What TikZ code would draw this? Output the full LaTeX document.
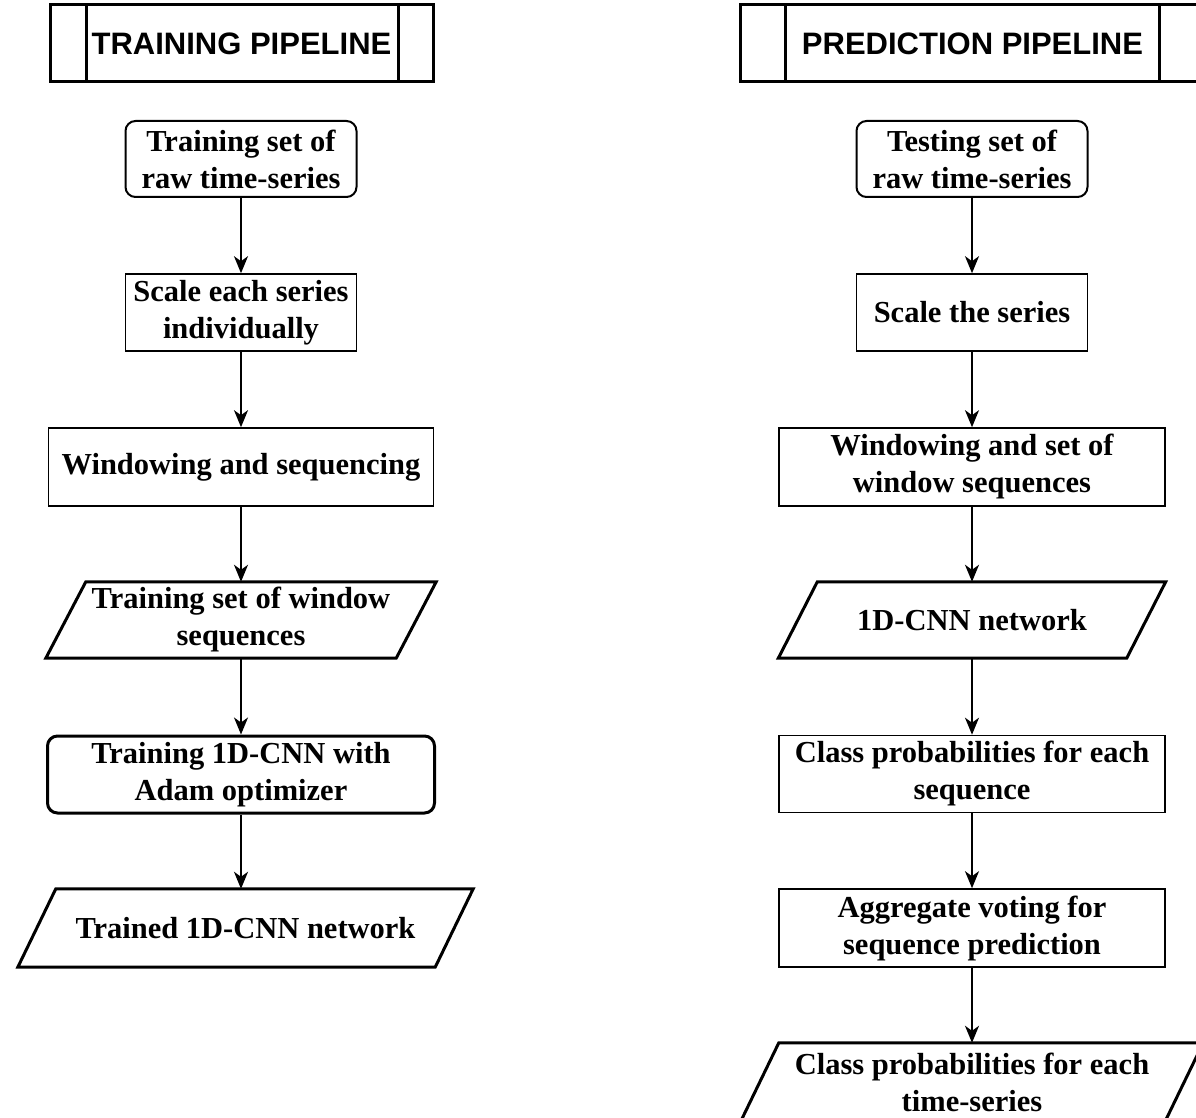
\documentclass[tikz,border=0pt]{standalone}
\usepackage{fontspec}
\setmainfont{Liberation Serif}
\newfontfamily\hdrfont{Liberation Sans}
\usetikzlibrary{arrows.meta}
\begin{document}
\begin{tikzpicture}[x=1pt,y=-1pt,
  every node/.style={font=\fontsize{30.5}{37}\selectfont\bfseries, align=center, inner sep=0pt},
  hdr/.style={draw, line width=3pt, font=\hdrfont\fontsize{31}{36}\selectfont\bfseries, minimum height=77pt},
  startbox/.style={draw, line width=2pt, rounded corners=10pt, minimum width=231pt, minimum height=76pt},
  procbox/.style={draw, line width=1.6pt, minimum height=77pt},
  thickround/.style={draw, line width=3pt, rounded corners=10pt, minimum height=77pt},
  parabox/.style={minimum height=77pt},
  paraline/.style={line width=3pt, line join=miter},
  arr/.style={line width=2pt, -{Stealth[length=17pt,width=14pt,inset=5pt]}}
]
\useasboundingbox (0,0) rectangle (1196,1118);

% headers
\node[hdr, minimum width=383pt] (lh) at (241.5,43.5) {TRAINING PIPELINE};
\draw[line width=3pt] ([xshift=38pt]lh.north west) -- ([xshift=38pt]lh.south west);
\draw[line width=3pt] ([xshift=-36pt]lh.north east) -- ([xshift=-36pt]lh.south east);

\node[hdr, minimum width=465pt] (rh) at (972.5,43.5) {PREDICTION PIPELINE};
\draw[line width=3pt] ([xshift=47pt]rh.north west) -- ([xshift=47pt]rh.south west);
\draw[line width=3pt] ([xshift=-47pt]rh.north east) -- ([xshift=-47pt]rh.south east);

% left column
\node[startbox] (l1) at (241,159) {Training set of\\raw time-series};
\node[procbox, minimum width=231pt] (l2) at (241,312.5) {Scale each series\\individually};
\node[procbox, minimum width=385pt, minimum height=78pt] (l3) at (241,467) {Windowing and sequencing};
\node[parabox, minimum width=350pt, minimum height=76pt] (l4) at (241,620) {Training set of window\\sequences};
\draw[paraline] ([xshift=20pt]l4.north west) -- ([xshift=20pt]l4.north east) -- ([xshift=-20pt]l4.south east) -- ([xshift=-20pt]l4.south west) -- cycle;
\node[thickround, minimum width=387pt] (l5) at (241,774.5) {Training 1D-CNN with\\Adam optimizer};
\node[parabox, minimum width=417pt, minimum height=78pt] (l6) at (245.5,928) {Trained 1D-CNN network};
\draw[paraline] ([xshift=19pt]l6.north west) -- ([xshift=19pt]l6.north east) -- ([xshift=-19pt]l6.south east) -- ([xshift=-19pt]l6.south west) -- cycle;

\draw[arr] (l1.south) -- (l1.south |- l2.north);
\draw[arr] (l2.south) -- (l2.south |- l3.north);
\draw[arr] (l3.south) -- (l3.south |- l4.north);
\draw[arr] (l4.south) -- (l4.south |- l5.north);
\draw[arr] (l5.south) -- (l5.south |- l6.north);

% right column
\node[startbox] (r1) at (972,159) {Testing set of\\raw time-series};
\node[procbox, minimum width=231pt] (r2) at (972,312.5) {Scale the series};
\node[procbox, minimum width=386pt, minimum height=78pt] (r3) at (972,467) {Windowing and set of\\window sequences};
\node[parabox, minimum width=348pt, minimum height=76pt] (r4) at (972,620) {1D-CNN network};
\draw[paraline] ([xshift=19.5pt]r4.north west) -- ([xshift=19.5pt]r4.north east) -- ([xshift=-19.5pt]r4.south east) -- ([xshift=-19.5pt]r4.south west) -- cycle;
\node[procbox, minimum width=386pt] (r5) at (972,774) {Class probabilities for each\\sequence};
\node[procbox, minimum width=386pt, minimum height=78pt] (r6) at (972,928) {Aggregate voting for\\sequence prediction};
\node[parabox, minimum width=424pt, minimum height=78pt] (r7) at (972,1082) {Class probabilities for each\\time-series};
\draw[paraline] ([xshift=19pt]r7.north west) -- ([xshift=19pt]r7.north east) -- ([xshift=-19pt]r7.south east) -- ([xshift=-19pt]r7.south west) -- cycle;

\draw[arr] (r1.south) -- (r1.south |- r2.north);
\draw[arr] (r2.south) -- (r2.south |- r3.north);
\draw[arr] (r3.south) -- (r3.south |- r4.north);
\draw[arr] (r4.south) -- (r4.south |- r5.north);
\draw[arr] (r5.south) -- (r5.south |- r6.north);
\draw[arr] (r6.south) -- (r6.south |- r7.north);
\end{tikzpicture}
\end{document}
